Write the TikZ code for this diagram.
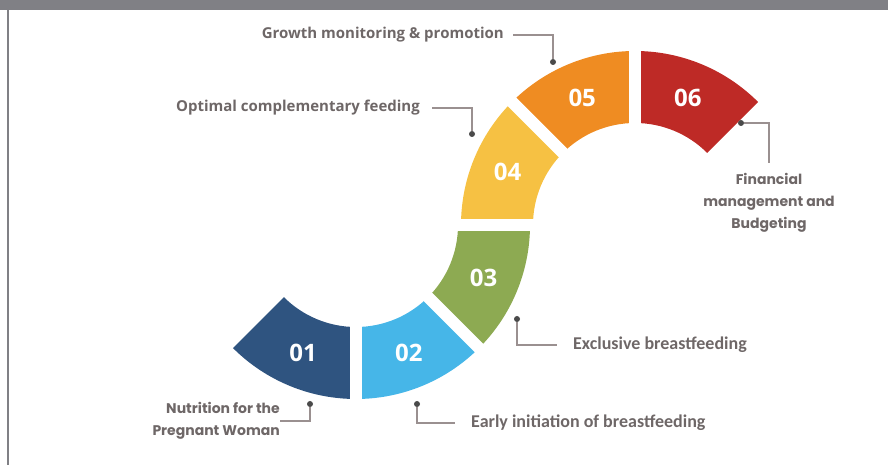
\documentclass[tikz,border=0pt]{standalone}
\usepackage{fontspec}
\setmainfont{Open Sans}
\newfontfamily\calfont{Carlito}
\newfontfamily\popfont{Poppins}
\usetikzlibrary{calc}
\definecolor{segA}{HTML}{2F5480}
\definecolor{segB}{HTML}{46B6E8}
\definecolor{segC}{HTML}{8DAA52}
\definecolor{segD}{HTML}{F6C143}
\definecolor{segE}{HTML}{EF8C22}
\definecolor{segF}{HTML}{BE2A26}
\definecolor{headgray}{HTML}{808085}
\definecolor{lblgray}{HTML}{6E6767}
\definecolor{leadgray}{HTML}{9A9090}
\definecolor{dotgray}{HTML}{4A4A4A}
\begin{document}
\begin{tikzpicture}[x=1pt, y=1pt]
\tikzset{segnum/.style={text=white, font=\fontsize{24}{24}\selectfont\bfseries, inner sep=0pt}}
\tikzset{lbl/.style={text=lblgray, font=\fontsize{15}{22}\selectfont\bfseries, inner sep=0pt, inner xsep=10pt}}
\tikzset{leader/.style={draw=leadgray, line width=1.2pt}}
\tikzset{tipdot/.style={shape=circle, minimum size=6pt, inner sep=0pt, fill=dotgray}}
\tikzset{gapline/.style={draw=white, line width=12pt}}
\useasboundingbox (0,0) rectangle (888,465);
% frame
\fill[headgray] (0,455) rectangle (888,465);
\draw[headgray, line width=2pt] (8,0) -- (8,455);
% ring centres
\coordinate (c1) at (356,240);
\coordinate (c2) at (635,240);
% lower ring
\fill[segA] ($(c1)+(225:174)$) arc[start angle=225, end angle=270, radius=174] -- ($(c1)+(270:102)$) arc[start angle=270, end angle=225, radius=102] -- cycle;
\fill[segB] ($(c1)+(270:174)$) arc[start angle=270, end angle=315, radius=174] -- ($(c1)+(315:102)$) arc[start angle=315, end angle=270, radius=102] -- cycle;
\fill[segC] ($(c1)+(315:174)$) arc[start angle=315, end angle=360, radius=174] -- ($(c1)+(0:102)$) arc[start angle=360, end angle=315, radius=102] -- cycle;
% upper ring
\fill[segD] ($(c2)+(180:174)$) arc[start angle=180, end angle=135, radius=174] -- ($(c2)+(135:102)$) arc[start angle=135, end angle=180, radius=102] -- cycle;
\fill[segE] ($(c2)+(135:174)$) arc[start angle=135, end angle=90, radius=174] -- ($(c2)+(90:102)$) arc[start angle=90, end angle=135, radius=102] -- cycle;
\fill[segF] ($(c2)+(90:174)$) arc[start angle=90, end angle=45, radius=174] -- ($(c2)+(45:102)$) arc[start angle=45, end angle=90, radius=102] -- cycle;
% gaps
\draw[gapline] ($(c1)+(270:95)$) -- ($(c1)+(270:180)$);
\draw[gapline] ($(c1)+(315:95)$) -- ($(c1)+(315:180)$);
\draw[gapline] ($(c1)+(0:95)$) -- ($(c2)+(180:95)$);
\draw[gapline] ($(c2)+(135:95)$) -- ($(c2)+(135:180)$);
\draw[gapline] ($(c2)+(90:95)$) -- ($(c2)+(90:180)$);
% numbers
\node[segnum] (n01) at ($(c1)+(247.5:138)$) {01};
\node[segnum] (n02) at ($(c1)+(292.5:138)$) {02};
\node[segnum] (n03) at ($(c1)+(337.5:138)$) {03};
\node[segnum] (n04) at ($(c2)+(157.5:138)$) {04};
\node[segnum] (n05) at ($(c2)+(112.5:138)$) {05};
\node[segnum] (n06) at ($(c2)+(67.5:138)$) {06};
% dots
\node (dot1) [tipdot] at (310, 61) {};
\node (dot2) [tipdot] at (417, 61) {};
\node (dot3) [tipdot] at (517,146) {};
\node (dot4) [tipdot] at (472,331) {};
\node (dot5) [tipdot] at (553,403) {};
\node (dot6) [tipdot] at (741,342) {};
% labels
\node (lblnutr) [lbl, inner xsep=0pt, anchor=east, align=right, font=\popfont\fontsize{14}{22}\selectfont\bfseries] at (280,44) {Nutrition for the\\Pregnant Woman};
\node (lblearly) [lbl, inner xsep=16pt, anchor=west, font=\calfont\fontsize{18}{22}\selectfont\bfseries] at (455,42) {Early initiation of breastfeeding};
\node (lblexcl) [lbl, inner xsep=16pt, anchor=west, font=\calfont\fontsize{18}{22}\selectfont\bfseries] at (557,120) {Exclusive breastfeeding};
\node (lblopt) [lbl, inner xsep=12pt, anchor=east] at (432,357) {Optimal complementary feeding};
\node (lblgrowth) [lbl, inner xsep=9pt, anchor=east] at (513,430) {Growth monitoring \& promotion};
\node (lblfin) [lbl, inner sep=0pt, anchor=north, align=center, font=\popfont\fontsize{14}{22}\selectfont\bfseries] at (769,292) {Financial\\management and\\Budgeting};
% leaders
\draw[leader] (dot1) |- (lblnutr.east);
\draw[leader] (dot2) |- (lblearly.west);
\draw[leader] (dot3) |- (lblexcl.west);
\draw[leader] (lblopt.east) -| (dot4);
\draw[leader] (lblgrowth.east) -| (dot5);
\draw[leader] (dot6) -| ($(lblfin.north)+(0,10)$);
\end{tikzpicture}
\end{document}
